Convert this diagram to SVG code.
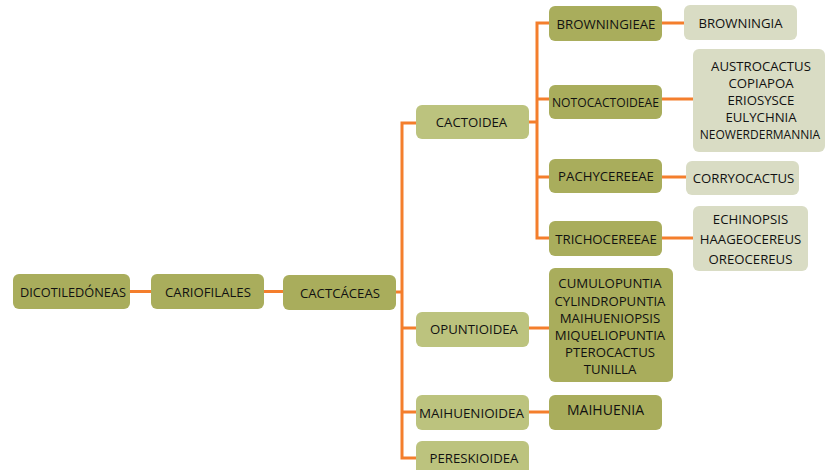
<svg xmlns="http://www.w3.org/2000/svg" width="826" height="470" viewBox="0 0 826 470">
<style>
.d{fill:#a9ad5c}
.l{fill:#bcc37e}
.g{fill:#d9dcc4}
.c{stroke:#f47e2c;stroke-width:3;fill:none}
text{font-family:"Open Sans","Noto Sans",sans-serif;font-size:13.2px;fill:#111111;text-anchor:middle}
</style>
<rect width="826" height="470" fill="#ffffff"/>
<g id="connectors" class="c">
<path d="M130,291.5H151"/>
<path d="M264,291.5H283"/>
<path d="M396,292H402"/>
<path d="M416,123H402V458H416"/>
<path d="M402,328H416M402,412H416"/>
<path d="M529,122H537"/>
<path d="M549,23H537V238H549"/>
<path d="M537,99H549M537,177H549"/>
<path d="M662,23H684M662,99H693M662,177H686M662,238H693"/>
<path d="M529,328H549M529,412H549"/>
</g>
<g id="dicotiledoneas"><rect class="d" x="13" y="274" width="117" height="35" rx="6"/><text x="73" y="296.5" textLength="106" lengthAdjust="spacingAndGlyphs">DICOTILEDÓNEAS</text></g>
<g id="cariofilales"><rect class="d" x="151" y="274" width="113" height="35" rx="6"/><text x="208" y="296.5">CARIOFILALES</text></g>
<g id="cactaceas"><rect class="d" x="283" y="275" width="113" height="35" rx="6"/><text x="340" y="297.5">CACTCÁCEAS</text></g>
<g id="cactoidea"><rect class="l" x="416" y="105" width="113" height="34" rx="6"/><text x="471.5" y="127">CACTOIDEA</text></g>
<g id="opuntioidea"><rect class="l" x="416" y="312" width="113" height="35" rx="6"/><text x="474" y="334">OPUNTIOIDEA</text></g>
<g id="maihuenioidea"><rect class="l" x="416" y="395" width="113" height="35" rx="6"/><text x="471.5" y="417.5" textLength="105" lengthAdjust="spacingAndGlyphs">MAIHUENIOIDEA</text></g>
<g id="pereskioidea"><rect class="l" x="416" y="441" width="113" height="35" rx="6"/><text x="474" y="463">PERESKIOIDEA</text></g>
<g id="browningieae"><rect class="d" x="549" y="6" width="113" height="35" rx="6"/><text x="606" y="28.5">BROWNINGIEAE</text></g>
<g id="notocactoideae"><rect class="d" x="549" y="85" width="113" height="34" rx="6"/><text x="605.5" y="107" textLength="107" lengthAdjust="spacingAndGlyphs">NOTOCACTOIDEAE</text></g>
<g id="pachycereeae"><rect class="d" x="549" y="159" width="113" height="34" rx="6"/><text x="606" y="181">PACHYCEREEAE</text></g>
<g id="trichocereeae"><rect class="d" x="549" y="221" width="113" height="35" rx="6"/><text x="606" y="243.5">TRICHOCEREEAE</text></g>
<g id="opuntioidea-genera"><rect class="d" x="549" y="268" width="124" height="114" rx="6"/>
<text x="610" y="288">CUMULOPUNTIA</text><text x="610" y="305.5">CYLINDROPUNTIA</text><text x="610" y="322.5">MAIHUENIOPSIS</text><text x="610" y="339.5">MIQUELIOPUNTIA</text><text x="610" y="356.5">PTEROCACTUS</text><text x="610" y="374">TUNILLA</text></g>
<g id="maihuenia"><rect class="d" x="549" y="395" width="113" height="35" rx="6"/><text x="605.5" y="415" style="font-size:14px">MAIHUENIA</text></g>
<g id="browningia"><rect class="g" x="684" y="5" width="113" height="35" rx="6"/><text x="740.5" y="27.5">BROWNINGIA</text></g>
<g id="notocactoideae-genera"><rect class="g" x="693" y="49" width="132" height="103" rx="6"/>
<text x="761" y="71">AUSTROCACTUS</text><text x="761" y="88">COPIAPOA</text><text x="761" y="105">ERIOSYSCE</text><text x="761" y="122">EULYCHNIA</text><text x="760" y="139" style="font-size:12px">NEOWERDERMANNIA</text></g>
<g id="corryocactus"><rect class="g" x="686" y="161" width="113" height="34" rx="6"/><text x="743.5" y="183">CORRYOCACTUS</text></g>
<g id="trichocereeae-genera"><rect class="g" x="693" y="206" width="115" height="65" rx="6"/>
<text x="750.5" y="224">ECHINOPSIS</text><text x="750.5" y="244">HAAGEOCEREUS</text><text x="750.5" y="264">OREOCEREUS</text></g>
</svg>
